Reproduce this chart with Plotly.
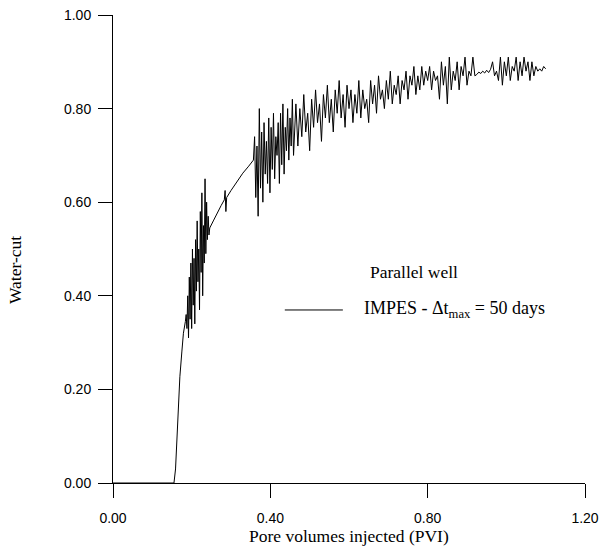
import plotly.graph_objects as go

# ---- data ----
pvi_pre = [0.000, 0.155, 0.159, 0.163, 0.167, 0.170, 0.175, 0.179, 0.184]
wc_pre = [0.000, 0.000, 0.030, 0.100, 0.170, 0.227, 0.280, 0.320, 0.345]

pvi_osc1 = [0.186, 0.188, 0.190, 0.192, 0.194, 0.196, 0.198, 0.200, 0.202, 0.204,
            0.206, 0.208, 0.210, 0.212, 0.214, 0.216, 0.218, 0.220, 0.222, 0.224,
            0.226, 0.228, 0.230, 0.232, 0.234, 0.236, 0.238, 0.240, 0.242, 0.244]
wc_osc1 = [0.36, 0.33, 0.40, 0.31, 0.44, 0.35, 0.47, 0.33, 0.50, 0.38,
           0.48, 0.34, 0.52, 0.41, 0.56, 0.43, 0.50, 0.37, 0.58, 0.45,
           0.62, 0.40, 0.55, 0.47, 0.65, 0.49, 0.60, 0.52, 0.57, 0.53]

pvi_smooth = [0.246, 0.255, 0.265, 0.275, 0.283, 0.285, 0.287, 0.289, 0.300,
              0.315, 0.330, 0.345, 0.357]
wc_smooth = [0.545, 0.560, 0.578, 0.593, 0.605, 0.625, 0.580, 0.610, 0.625,
             0.645, 0.662, 0.677, 0.690]

pvi_osc2 = [0.360, 0.363, 0.366, 0.369, 0.372, 0.375, 0.378, 0.381, 0.384, 0.387,
            0.390, 0.393, 0.396, 0.399, 0.402, 0.405, 0.408, 0.411, 0.414, 0.417,
            0.420, 0.423, 0.426, 0.429, 0.432, 0.435, 0.438, 0.441, 0.444, 0.447,
            0.450, 0.453, 0.456, 0.459]
wc_osc2 = [0.74, 0.61, 0.72, 0.57, 0.80, 0.63, 0.75, 0.60, 0.77, 0.66,
           0.73, 0.64, 0.78, 0.62, 0.76, 0.67, 0.79, 0.65, 0.74, 0.70,
           0.77, 0.64, 0.79, 0.68, 0.81, 0.66, 0.76, 0.71, 0.80, 0.69,
           0.78, 0.72, 0.82, 0.70]

pvi_osc3 = [0.465, 0.470, 0.475, 0.480, 0.485, 0.490, 0.495, 0.500, 0.505, 0.510,
            0.515, 0.520, 0.525, 0.530, 0.535, 0.540, 0.545, 0.550, 0.555, 0.560,
            0.565, 0.570, 0.575, 0.580, 0.585, 0.590, 0.595, 0.600,
            0.605, 0.610, 0.615, 0.620, 0.625, 0.630, 0.635, 0.640, 0.645, 0.650,
            0.655, 0.660, 0.665, 0.670, 0.675, 0.680, 0.685, 0.690, 0.695, 0.700,
            0.705, 0.710, 0.715, 0.720, 0.725, 0.730, 0.735, 0.740, 0.745, 0.750,
            0.755, 0.760, 0.765, 0.770, 0.775, 0.780, 0.785, 0.790, 0.795, 0.800]
wc_osc3 = [0.81, 0.72, 0.80, 0.74, 0.83, 0.75, 0.79, 0.71, 0.82, 0.76,
           0.84, 0.77, 0.81, 0.73, 0.83, 0.78, 0.85, 0.77, 0.82, 0.75,
           0.84, 0.79, 0.86, 0.78, 0.83, 0.76, 0.85, 0.80,
           0.84, 0.77, 0.83, 0.79, 0.86, 0.78, 0.84, 0.80, 0.82, 0.77,
           0.86, 0.81, 0.85, 0.79, 0.87, 0.82, 0.84, 0.80, 0.86, 0.82,
           0.88, 0.81, 0.85, 0.83, 0.87, 0.81, 0.86, 0.84, 0.88, 0.82,
           0.87, 0.85, 0.89, 0.83, 0.87, 0.84, 0.89, 0.85, 0.88, 0.86]

pvi_osc4 = [0.805, 0.810, 0.815, 0.820, 0.825, 0.830, 0.835, 0.840, 0.845, 0.850,
            0.855, 0.860, 0.865, 0.870, 0.875, 0.880, 0.885, 0.890, 0.895, 0.900,
            0.905, 0.910, 0.915, 0.920,
            0.925, 0.930, 0.935, 0.940, 0.945, 0.950, 0.955, 0.960,
            0.965, 0.970, 0.975, 0.980, 0.985, 0.990, 0.995, 1.000, 1.005, 1.010,
            1.015, 1.020, 1.025, 1.030, 1.035, 1.040, 1.045, 1.050, 1.055, 1.060,
            1.065, 1.070, 1.075, 1.080, 1.085, 1.090, 1.095, 1.100]
wc_osc4 = [0.89, 0.84, 0.88, 0.86, 0.87, 0.82, 0.90, 0.85, 0.89, 0.81,
           0.91, 0.84, 0.88, 0.86, 0.90, 0.84, 0.89, 0.87, 0.91, 0.85,
           0.88, 0.87, 0.91, 0.87,
           0.873, 0.878, 0.875, 0.880, 0.876, 0.882, 0.877, 0.884,
           0.90, 0.87, 0.88, 0.86, 0.91, 0.85, 0.90, 0.87, 0.91, 0.86,
           0.89, 0.88, 0.91, 0.86, 0.90, 0.87, 0.91, 0.88, 0.90, 0.86,
           0.90, 0.87, 0.89, 0.88, 0.885, 0.88, 0.89, 0.885]

pvi = pvi_pre + pvi_osc1 + pvi_smooth + pvi_osc2 + pvi_osc3 + pvi_osc4
water_cut = wc_pre + wc_osc1 + wc_smooth + wc_osc2 + wc_osc3 + wc_osc4

x_ticks = [0.0, 0.4, 0.8, 1.2]
y_ticks = [0.0, 0.2, 0.4, 0.6, 0.8, 1.0]

SERIF = "Liberation Serif, Times New Roman, serif"
SANS = "Liberation Sans, Arial, sans-serif"

fig = go.Figure()
fig.add_trace(go.Scatter(x=pvi, y=water_cut, mode="lines",
                         line=dict(color="black", width=1),
                         showlegend=False, hoverinfo="skip"))

axis_common = dict(showline=True, linecolor="black", linewidth=1,
                   ticks="outside", ticklen=14, tickcolor="black", tickwidth=1,
                   showgrid=False, zeroline=False, mirror=False, automargin=False,
                   tickfont=dict(family=SANS, size=14, color="black"),
                   tickformat=".2f")

fig.update_xaxes(range=[0, 1.2], tickvals=x_ticks, ticklabelstandoff=8, **axis_common)
fig.update_yaxes(range=[0, 1.0], tickvals=y_ticks, ticklabelstandoff=4, **axis_common)

fig.update_layout(
    width=600, height=546,
    margin=dict(l=113, r=15, t=15, b=63),
    plot_bgcolor="white", paper_bgcolor="white",
    shapes=[dict(type="line", xref="paper", yref="paper",
                 x0=0.364, x1=0.487, y0=0.3697, y1=0.3697,
                 line=dict(color="black", width=1))],
    annotations=[
        dict(text="Parallel well", xref="paper", yref="paper", x=0.638, y=0.4515,
             xanchor="center", yanchor="middle", showarrow=False,
             font=dict(family=SERIF, size=17.5, color="black")),
        dict(text="IMPES - Δt<sub>max</sub> = 50 days", xref="paper", yref="paper",
             x=0.5275, y=0.3697, xanchor="left", yanchor="middle", showarrow=False,
             font=dict(family=SERIF, size=18, color="black")),
        dict(text="Pore volumes injected (PVI)", xref="paper", yref="paper",
             x=0.5, y=-0.113, xanchor="center", yanchor="middle", showarrow=False,
             font=dict(family=SERIF, size=17.5, color="black")),
        dict(text="Water-cut", xref="paper", yref="paper",
             x=-0.2076, y=0.455, xanchor="center", yanchor="middle", showarrow=False,
             textangle=-90, font=dict(family=SERIF, size=17.5, color="black")),
    ],
)

fig.write_html("out.html", config={"displayModeBar": False},
               post_script="document.body.style.margin='0';document.body.style.overflow='hidden';")
